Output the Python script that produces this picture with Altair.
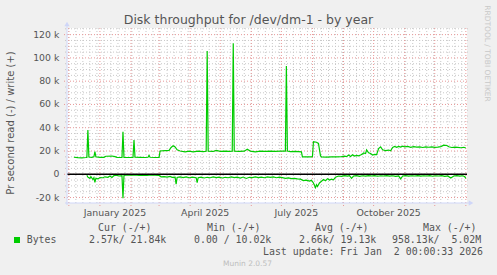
import altair as alt
import pandas as pd

# ---------------- data ----------------
write_dates = [
    "2024-12-06", "2024-12-10", "2024-12-14", "2024-12-18", "2024-12-19", "2024-12-20", "2024-12-21",
    "2024-12-24", "2024-12-26", "2024-12-27", "2024-12-28", "2025-01-01", "2025-01-05", "2025-01-07",
    "2025-01-13", "2025-01-16", "2025-01-18", "2025-01-23", "2025-01-24", "2025-01-25", "2025-01-31",
    "2025-02-03", "2025-02-04", "2025-02-05", "2025-02-10", "2025-02-15", "2025-02-18", "2025-02-19",
    "2025-02-20", "2025-02-25", "2025-03-01", "2025-03-02", "2025-03-07", "2025-03-11", "2025-03-13",
    "2025-03-15", "2025-03-17", "2025-03-19", "2025-03-22", "2025-03-27", "2025-03-31", "2025-04-04",
    "2025-04-09", "2025-04-14", "2025-04-17", "2025-04-18", "2025-04-19", "2025-04-24", "2025-04-27",
    "2025-05-01", "2025-05-06", "2025-05-10", "2025-05-13", "2025-05-14", "2025-05-15", "2025-05-20",
    "2025-05-25", "2025-05-28", "2025-05-31", "2025-06-05", "2025-06-10", "2025-06-15", "2025-06-20",
    "2025-06-25", "2025-06-30", "2025-07-05", "2025-07-06", "2025-07-07", "2025-07-10", "2025-07-15",
    "2025-07-21", "2025-07-22", "2025-07-26", "2025-07-31", "2025-08-01", "2025-08-02", "2025-08-05",
    "2025-08-07", "2025-08-09", "2025-08-10", "2025-08-15", "2025-08-20", "2025-08-25", "2025-08-30",
    "2025-09-02", "2025-09-04", "2025-09-06", "2025-09-08", "2025-09-10", "2025-09-12", "2025-09-14",
    "2025-09-16", "2025-09-18", "2025-09-20", "2025-09-21", "2025-09-23", "2025-09-24", "2025-09-26",
    "2025-09-28", "2025-09-30", "2025-10-02", "2025-10-04", "2025-10-06", "2025-10-08", "2025-10-10",
    "2025-10-13", "2025-10-16", "2025-10-18", "2025-10-20", "2025-10-22", "2025-10-24", "2025-10-26",
    "2025-10-28", "2025-10-30", "2025-11-01", "2025-11-04", "2025-11-07", "2025-11-10", "2025-11-13",
    "2025-11-16", "2025-11-19", "2025-11-22", "2025-11-25", "2025-11-28", "2025-12-01", "2025-12-04",
    "2025-12-07", "2025-12-10", "2025-12-13", "2025-12-15", "2025-12-18", "2025-12-21", "2025-12-24",
    "2025-12-27", "2025-12-30", "2026-01-01",
]
write_values = [
    14600, 14300, 14100, 14400, 14500, 38000, 14800,
    14600, 15000, 19500, 15000, 14500, 14500, 15500,
    15700, 15200, 14500, 14400, 36500, 14500, 14400,
    14500, 29500, 14600, 14500, 14400, 14600, 16300,
    14600, 14400, 14500, 20000, 20300, 20500, 23000,
    24500, 23500, 21000, 20000, 19300, 19800, 19200,
    19800, 19500, 19800, 106000, 19800, 19600, 20500,
    19700, 19800, 19700, 19900, 112500, 19800, 19600,
    19800, 21500, 19900, 19300, 19900, 19600, 19800,
    19700, 19900, 19800, 93000, 20000, 19400, 19600,
    19300, 15000, 14900, 15000, 15200, 28000, 27500,
    26500, 16000, 15000, 14800, 15000, 14900, 15100,
    15600, 15100, 16500, 15300, 16800, 15600, 16200,
    15800, 16600, 17500, 18300, 17800, 21000, 18500,
    17800, 16500, 17000, 16800, 22000, 23500, 21000,
    20300, 20800, 20200, 23000, 24000, 23200, 24000,
    23400, 24200, 23600, 23900, 23200, 23800, 23300,
    23600, 23000, 23500, 23200, 23600, 23100, 23300,
    23800, 25000, 24700, 23600, 23000, 23300, 23100,
    22800, 23200, 22600,
]

read_dates = [
    "2024-12-19", "2024-12-20", "2024-12-22", "2024-12-23", "2024-12-25", "2024-12-26", "2024-12-27",
    "2024-12-28", "2024-12-30", "2025-01-01", "2025-01-04", "2025-01-06", "2025-01-09", "2025-01-11",
    "2025-01-13", "2025-01-15", "2025-01-17", "2025-01-20", "2025-01-23", "2025-01-24", "2025-01-25",
    "2025-01-28", "2025-02-01", "2025-02-05", "2025-02-09", "2025-02-13", "2025-02-17", "2025-02-21",
    "2025-02-25", "2025-03-01", "2025-03-03", "2025-03-06", "2025-03-09", "2025-03-12", "2025-03-14",
    "2025-03-17", "2025-03-18", "2025-03-19", "2025-03-22", "2025-03-25", "2025-03-28", "2025-03-31",
    "2025-04-03", "2025-04-06", "2025-04-07", "2025-04-08", "2025-04-09", "2025-04-12", "2025-04-15",
    "2025-04-18", "2025-04-21", "2025-04-24", "2025-04-27", "2025-04-30", "2025-05-03", "2025-05-06",
    "2025-05-09", "2025-05-12", "2025-05-15", "2025-05-18", "2025-05-21", "2025-05-24", "2025-05-27",
    "2025-05-30", "2025-06-02", "2025-06-05", "2025-06-08", "2025-06-11", "2025-06-14", "2025-06-17",
    "2025-06-20", "2025-06-23", "2025-06-26", "2025-06-29", "2025-07-02", "2025-07-05", "2025-07-08",
    "2025-07-11", "2025-07-14", "2025-07-17", "2025-07-20", "2025-07-23", "2025-07-26", "2025-07-29",
    "2025-07-31", "2025-08-02", "2025-08-04", "2025-08-05", "2025-08-06", "2025-08-08", "2025-08-10",
    "2025-08-12", "2025-08-14", "2025-08-16", "2025-08-18", "2025-08-20", "2025-08-22", "2025-08-24",
    "2025-08-27", "2025-08-30", "2025-09-02", "2025-09-05", "2025-09-07", "2025-09-09", "2025-09-11",
    "2025-09-14", "2025-09-17", "2025-09-20", "2025-09-23", "2025-09-26", "2025-09-29", "2025-10-02",
    "2025-10-05", "2025-10-08", "2025-10-11", "2025-10-14", "2025-10-17", "2025-10-20", "2025-10-23",
    "2025-10-26", "2025-10-28", "2025-10-30", "2025-11-02", "2025-11-05", "2025-11-08", "2025-11-11",
    "2025-11-14", "2025-11-17", "2025-11-20", "2025-11-23", "2025-11-26", "2025-11-29", "2025-12-02",
    "2025-12-05", "2025-12-08", "2025-12-11", "2025-12-14", "2025-12-17", "2025-12-20", "2025-12-23",
    "2025-12-26", "2025-12-29", "2025-12-31", "2026-01-01",
]
read_values = [
    -800, -2500, -3500, -2000, -4500, -3000, -7000,
    -3500, -4000, -2800, -3000, -2200, -2600, -1500,
    -2800, -1200, -800, -1500, -1200, -20600, -1000,
    -600, -800, -600, -900, -700, -900, -600,
    -800, -1000, -2200, -2000, -2500, -1800, -2600,
    -2400, -8500, -2800, -2300, -2800, -2200, -3000,
    -2500, -2800, -3000, -7200, -3000, -2400, -3200,
    -2600, -3000, -2300, -2800, -2400, -3200, -2600,
    -3000, -2300, -2900, -2500, -3300, -2400, -3600,
    -2600, -2900, -2200, -2800, -2400, -3000, -2300,
    -2700, -2300, -3000, -2500, -2900, -3500, -3200,
    -3800, -3500, -4000, -4200, -5500, -5000, -5800,
    -5200, -7500, -11500, -9000, -10500, -7500, -6000,
    -4500, -5500, -3800, -5000, -4200, -4800, -2500,
    -1500, -1800, -1200, -1600, -1200, -3500, -1500,
    -1200, -1800, -1300, -1600, -1100, -1500, -1200,
    -1700, -1300, -1500, -1100, -1600, -1300, -1800,
    -1400, -4000, -1500, -1200, -1600, -1300, -1500,
    -1100, -1600, -1300, -1500, -1200, -1700, -1300,
    -1500, -1200, -1800, -1400, -3200, -1500, -1200,
    -1600, -1300, -2200, -3500,
]

y_major_values = [-20000, 0, 20000, 40000, 60000, 80000, 100000, 120000]
y_major_labels = ["-20 k", "0", "20 k", "40 k", "60 k", "80 k", "100 k", "120 k"]
y_minor_values = [-15000, -10000, -5000, 5000, 10000, 15000, 25000, 30000, 35000, 45000, 50000,
                  55000, 65000, 70000, 75000, 85000, 90000, 95000, 105000, 110000, 115000, 125000]
month_starts = ["2024-12-01", "2025-01-01", "2025-02-01", "2025-03-01", "2025-04-01", "2025-05-01",
                "2025-06-01", "2025-07-01", "2025-08-01", "2025-09-01", "2025-10-01", "2025-11-01",
                "2025-12-01", "2026-01-01"]
x_label_dates = ["2025-01-16", "2025-04-16", "2025-07-16", "2025-10-16"]
x_label_texts = ["January 2025", "April 2025", "July 2025", "October 2025"]

legend_name = "Bytes"
legend_headers = ["Cur (-/+)", "Min (-/+)", "Avg (-/+)", "Max (-/+)"]
legend_stats = ["2.57k/ 21.84k", "0.00 / 10.02k", "2.66k/ 19.13k", "958.13k/\u00a0\u00a05.02M"]
last_update = "Last update: Fri Jan\u00a0\u00a02 00:00:33 2026"

# ---------------- frames ----------------
write_df = pd.DataFrame({"date": pd.to_datetime(write_dates), "v": write_values})
read_df = pd.DataFrame({"date": pd.to_datetime(read_dates), "v": read_values})
ymaj_df = pd.DataFrame({"v": y_major_values, "label": y_major_labels})
ymin_df = pd.DataFrame({"v": y_minor_values})
month_df = pd.DataFrame({"date": pd.to_datetime(month_starts)})
week_df = pd.DataFrame({"date": pd.date_range("2024-12-01", "2026-01-01", freq="7D")})
xlab_df = pd.DataFrame({"date": pd.to_datetime(x_label_dates), "label": x_label_texts})
one = pd.DataFrame({"a": [0]})

W, H = 400, 175
xs = alt.Scale(domain=[alt.DateTime(year=2024, month=11, date=29, hours=4),
                       alt.DateTime(year=2026, month=1, date=2, hours=4)])
ys = alt.Scale(domain=[-24700, 125700], nice=False, zero=False)

X = lambda: alt.X("date:T", scale=xs, axis=None)
Y = lambda: alt.Y("v:Q", scale=ys, axis=None)

GRID = "#c8c8c8"
MGRID = "#e89898"
AXIS = "#CFD6F8"
FONT = "#555555"

minor_h = alt.Chart(ymin_df).mark_rule(color=GRID, strokeDash=[1, 2], strokeWidth=1).encode(
    y=Y(), x=alt.value(-2), x2=alt.value(W + 2))
minor_v = alt.Chart(week_df).mark_rule(color=GRID, strokeDash=[1, 2], strokeWidth=1).encode(
    x=X(), y=alt.value(0), y2=alt.value(H + 2))
major_h = alt.Chart(ymaj_df).mark_rule(color=MGRID, strokeDash=[1, 2], strokeWidth=1).encode(
    y=Y(), x=alt.value(-3), x2=alt.value(W + 2))
major_v = alt.Chart(month_df).mark_rule(color=MGRID, strokeDash=[1, 2], strokeWidth=1).encode(
    x=X(), y=alt.value(0), y2=alt.value(H + 3))

read_line = alt.Chart(read_df).mark_line(color="#00cc00", strokeWidth=1.2).encode(x=X(), y=Y())
write_line = alt.Chart(write_df).mark_line(color="#00cc00", strokeWidth=1.2).encode(x=X(), y=Y())
zero_line = alt.Chart(pd.DataFrame({"v": [0]})).mark_rule(color="#000000", strokeWidth=1.3).encode(
    y=Y(), x=alt.value(0), x2=alt.value(W))

axis_left = alt.Chart(one).mark_rule(color=AXIS, strokeWidth=1).encode(
    x=alt.value(0), y=alt.value(H + 2), y2=alt.value(-3))
axis_bottom = alt.Chart(one).mark_rule(color=AXIS, strokeWidth=1).encode(
    y=alt.value(H), x=alt.value(-2), x2=alt.value(W + 3))
arrow_up = alt.Chart(one).mark_point(shape="triangle-up", filled=True, size=28, color=AXIS, opacity=1).encode(
    x=alt.value(0), y=alt.value(-4))
arrow_right = alt.Chart(one).mark_point(shape="triangle-right", filled=True, size=28, color=AXIS, opacity=1).encode(
    x=alt.value(W + 4), y=alt.value(H))

ylabels = alt.Chart(ymaj_df).mark_text(align="right", baseline="middle", font="DejaVu Sans",
                                       fontSize=9.3, color=FONT).encode(
    y=Y(), x=alt.value(-7.7), text="label:N")
xlabels = alt.Chart(xlab_df).mark_text(align="center", baseline="middle", font="DejaVu Sans",
                                       fontSize=9.4, color=FONT).encode(
    x=X(), y=alt.value(184.5), text="label:N")


def txt(text, x, y, font="DejaVu Sans", size=10, align="left", color=FONT, angle=0):
    return alt.Chart(one).mark_text(text=text, font=font, fontSize=size, align=align,
                                    baseline="middle", color=color, angle=angle).encode(
        x=alt.value(x), y=alt.value(y))


MONO = "DejaVu Sans Mono"
texts = [
    txt("Disk throughput for /dev/dm-1 - by year", 181.5, -8.5, size=12.5, align="center"),
    txt("Pr second read (-) / write (+)", -56.5, 95, size=10, align="center", angle=270),
    txt("RRDTOOL / TOBI OETIKER", 420, 25.5, size=7.5, align="center", color="#c8c8c8", angle=90),
]
for h, x in zip(legend_headers, [31, 140, 248, 356]):
    texts.append(txt(h, x, 199.5, font=MONO, size=9.9))
texts.append(txt(legend_name, -40.3, 211.5, font=MONO, size=9.9))
for s, x in zip(legend_stats, [22, 127, 232, 325]):
    texts.append(txt(s, x, 211.5, font=MONO, size=9.9))
texts.append(txt(last_update, 416, 224, font=MONO, size=9.9, align="right"))
texts.append(txt("Munin 2.0.57", 180.5, 236, size=7.5, align="center", color="#bdbdbd"))

legend_box = alt.Chart(one).mark_rect(color="#00cc00").encode(
    x=alt.value(-53), x2=alt.value(-47), y=alt.value(209), y2=alt.value(215))

chart = alt.layer(
    minor_h, minor_v, major_h, major_v, read_line, write_line, zero_line,
    axis_left, axis_bottom, arrow_up, arrow_right, ylabels, xlabels, legend_box, *texts
).properties(
    width=W, height=H,
    autosize=alt.AutoSizeParams(type="none"),
    padding={"left": 67, "top": 28, "right": 30, "bottom": 72},
    background="#f0f0f0",
).configure_view(fill="white", stroke=None)

chart.save("out.html", embed_options={"renderer": "svg", "actions": False})
